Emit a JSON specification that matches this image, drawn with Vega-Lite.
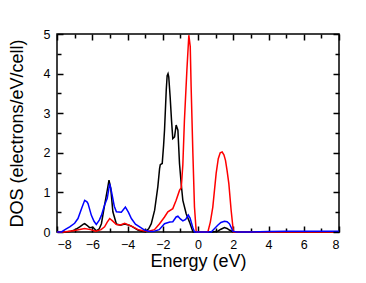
{
  "$schema": "https://vega.github.io/schema/vega-lite/v6.json",
  "width": 282,
  "height": 198,
  "autosize": {"type": "none"},
  "padding": {"left": 57, "top": 34, "right": 27, "bottom": 51},
  "config": {
    "view": {"stroke": "black", "strokeWidth": 1.5},
    "axis": {
      "domain": false,
      "grid": false,
      "labelFont": "Liberation Sans",
      "labelFontSize": 12.5,
      "labelColor": "black",
      "labelOverlap": false,
      "titleFont": "Liberation Sans",
      "titleFontSize": 18,
      "titleFontWeight": "normal",
      "titleColor": "black"
    }
  },
  "data": {
    "values": [
      {"E": -8, "dos": 0, "s": "black"},
      {"E": -7.5, "dos": 0, "s": "black"},
      {"E": -7.2, "dos": 0.02, "s": "black"},
      {"E": -7.0, "dos": 0.05, "s": "black"},
      {"E": -6.71, "dos": 0.13, "s": "black"},
      {"E": -6.5, "dos": 0.2, "s": "black"},
      {"E": -6.43, "dos": 0.21, "s": "black"},
      {"E": -6.3, "dos": 0.17, "s": "black"},
      {"E": -6.15, "dos": 0.11, "s": "black"},
      {"E": -5.96, "dos": 0.12, "s": "black"},
      {"E": -5.77, "dos": 0.03, "s": "black"},
      {"E": -5.6, "dos": 0.08, "s": "black"},
      {"E": -5.48, "dos": 0.21, "s": "black"},
      {"E": -5.3, "dos": 0.68, "s": "black"},
      {"E": -5.15, "dos": 1.05, "s": "black"},
      {"E": -5.05, "dos": 1.31, "s": "black"},
      {"E": -4.95, "dos": 1.1, "s": "black"},
      {"E": -4.83, "dos": 0.51, "s": "black"},
      {"E": -4.63, "dos": 0.2, "s": "black"},
      {"E": -4.4, "dos": 0.17, "s": "black"},
      {"E": -4.16, "dos": 0.2, "s": "black"},
      {"E": -3.9, "dos": 0.17, "s": "black"},
      {"E": -3.78, "dos": 0.15, "s": "black"},
      {"E": -3.41, "dos": 0.05, "s": "black"},
      {"E": -3.2, "dos": 0.02, "s": "black"},
      {"E": -3.0, "dos": 0.01, "s": "black"},
      {"E": -2.8, "dos": 0.08, "s": "black"},
      {"E": -2.65, "dos": 0.21, "s": "black"},
      {"E": -2.46, "dos": 0.55, "s": "black"},
      {"E": -2.28, "dos": 1.14, "s": "black"},
      {"E": -2.18, "dos": 1.6, "s": "black"},
      {"E": -2.14, "dos": 1.7, "s": "black"},
      {"E": -2.03, "dos": 1.73, "s": "black"},
      {"E": -1.95, "dos": 2.2, "s": "black"},
      {"E": -1.9, "dos": 2.57, "s": "black"},
      {"E": -1.8, "dos": 3.6, "s": "black"},
      {"E": -1.75, "dos": 3.95, "s": "black"},
      {"E": -1.7, "dos": 4.0, "s": "black"},
      {"E": -1.66, "dos": 3.92, "s": "black"},
      {"E": -1.58, "dos": 3.41, "s": "black"},
      {"E": -1.5, "dos": 2.8, "s": "black"},
      {"E": -1.43, "dos": 2.36, "s": "black"},
      {"E": -1.33, "dos": 2.4, "s": "black"},
      {"E": -1.24, "dos": 2.7, "s": "black"},
      {"E": -1.14, "dos": 2.57, "s": "black"},
      {"E": -1.05, "dos": 1.73, "s": "black"},
      {"E": -0.95, "dos": 1.2, "s": "black"},
      {"E": -0.86, "dos": 0.8, "s": "black"},
      {"E": -0.67, "dos": 0.46, "s": "black"},
      {"E": -0.48, "dos": 0.25, "s": "black"},
      {"E": -0.35, "dos": 0.08, "s": "black"},
      {"E": -0.28, "dos": 0, "s": "black"},
      {"E": 0.8, "dos": 0, "s": "black"},
      {"E": 1.12, "dos": 0.02, "s": "black"},
      {"E": 1.3, "dos": 0.07, "s": "black"},
      {"E": 1.5, "dos": 0.11, "s": "black"},
      {"E": 1.65, "dos": 0.09, "s": "black"},
      {"E": 1.78, "dos": 0.05, "s": "black"},
      {"E": 2.0, "dos": 0, "s": "black"},
      {"E": 8, "dos": 0, "s": "black"},

      {"E": -8, "dos": 0, "s": "red"},
      {"E": -7.6, "dos": 0, "s": "red"},
      {"E": -7.0, "dos": 0.04, "s": "red"},
      {"E": -6.43, "dos": 0.09, "s": "red"},
      {"E": -6.1, "dos": 0.06, "s": "red"},
      {"E": -5.8, "dos": 0.02, "s": "red"},
      {"E": -5.5, "dos": 0.06, "s": "red"},
      {"E": -5.3, "dos": 0.13, "s": "red"},
      {"E": -5.15, "dos": 0.25, "s": "red"},
      {"E": -5.01, "dos": 0.34, "s": "red"},
      {"E": -4.85, "dos": 0.28, "s": "red"},
      {"E": -4.63, "dos": 0.19, "s": "red"},
      {"E": -4.4, "dos": 0.18, "s": "red"},
      {"E": -4.16, "dos": 0.22, "s": "red"},
      {"E": -3.95, "dos": 0.18, "s": "red"},
      {"E": -3.69, "dos": 0.13, "s": "red"},
      {"E": -3.4, "dos": 0.06, "s": "red"},
      {"E": -3.1, "dos": 0.03, "s": "red"},
      {"E": -2.8, "dos": 0.02, "s": "red"},
      {"E": -2.47, "dos": 0.06, "s": "red"},
      {"E": -2.18, "dos": 0.21, "s": "red"},
      {"E": -1.9, "dos": 0.38, "s": "red"},
      {"E": -1.71, "dos": 0.51, "s": "red"},
      {"E": -1.43, "dos": 0.59, "s": "red"},
      {"E": -1.24, "dos": 0.8, "s": "red"},
      {"E": -1.05, "dos": 1.05, "s": "red"},
      {"E": -0.95, "dos": 1.12, "s": "red"},
      {"E": -0.86, "dos": 1.7, "s": "red"},
      {"E": -0.77, "dos": 2.82, "s": "red"},
      {"E": -0.63, "dos": 4.09, "s": "red"},
      {"E": -0.52, "dos": 4.97, "s": "red"},
      {"E": -0.44, "dos": 4.68, "s": "red"},
      {"E": -0.39, "dos": 3.67, "s": "red"},
      {"E": -0.29, "dos": 1.98, "s": "red"},
      {"E": -0.2, "dos": 0.63, "s": "red"},
      {"E": -0.1, "dos": 0, "s": "red"},
      {"E": 0.56, "dos": 0, "s": "red"},
      {"E": 0.7, "dos": 0.25, "s": "red"},
      {"E": 0.84, "dos": 0.63, "s": "red"},
      {"E": 1.03, "dos": 1.48, "s": "red"},
      {"E": 1.15, "dos": 1.85, "s": "red"},
      {"E": 1.26, "dos": 2.0, "s": "red"},
      {"E": 1.37, "dos": 2.02, "s": "red"},
      {"E": 1.47, "dos": 1.95, "s": "red"},
      {"E": 1.56, "dos": 1.81, "s": "red"},
      {"E": 1.65, "dos": 1.55, "s": "red"},
      {"E": 1.75, "dos": 1.22, "s": "red"},
      {"E": 1.88, "dos": 0.55, "s": "red"},
      {"E": 2.01, "dos": 0, "s": "red"},
      {"E": 8, "dos": 0, "s": "red"},

      {"E": -8, "dos": 0, "s": "blue"},
      {"E": -7.75, "dos": 0, "s": "blue"},
      {"E": -7.5, "dos": 0.07, "s": "blue"},
      {"E": -7.28, "dos": 0.13, "s": "blue"},
      {"E": -7.0, "dos": 0.22, "s": "blue"},
      {"E": -6.81, "dos": 0.34, "s": "blue"},
      {"E": -6.6, "dos": 0.6, "s": "blue"},
      {"E": -6.43, "dos": 0.8, "s": "blue"},
      {"E": -6.3, "dos": 0.76, "s": "blue"},
      {"E": -6.24, "dos": 0.72, "s": "blue"},
      {"E": -6.05, "dos": 0.42, "s": "blue"},
      {"E": -5.9, "dos": 0.27, "s": "blue"},
      {"E": -5.77, "dos": 0.19, "s": "blue"},
      {"E": -5.6, "dos": 0.3, "s": "blue"},
      {"E": -5.48, "dos": 0.42, "s": "blue"},
      {"E": -5.3, "dos": 0.68, "s": "blue"},
      {"E": -5.15, "dos": 0.85, "s": "blue"},
      {"E": -5.01, "dos": 1.22, "s": "blue"},
      {"E": -4.9, "dos": 1.0, "s": "blue"},
      {"E": -4.75, "dos": 0.65, "s": "blue"},
      {"E": -4.63, "dos": 0.51, "s": "blue"},
      {"E": -4.35, "dos": 0.5, "s": "blue"},
      {"E": -4.12, "dos": 0.63, "s": "blue"},
      {"E": -3.95, "dos": 0.5, "s": "blue"},
      {"E": -3.78, "dos": 0.34, "s": "blue"},
      {"E": -3.55, "dos": 0.2, "s": "blue"},
      {"E": -3.31, "dos": 0.13, "s": "blue"},
      {"E": -3.03, "dos": 0.05, "s": "blue"},
      {"E": -2.8, "dos": 0.02, "s": "blue"},
      {"E": -2.56, "dos": 0.01, "s": "blue"},
      {"E": -2.2, "dos": 0.06, "s": "blue"},
      {"E": -1.9, "dos": 0.21, "s": "blue"},
      {"E": -1.6, "dos": 0.25, "s": "blue"},
      {"E": -1.43, "dos": 0.26, "s": "blue"},
      {"E": -1.24, "dos": 0.38, "s": "blue"},
      {"E": -1.14, "dos": 0.4, "s": "blue"},
      {"E": -1.0, "dos": 0.33, "s": "blue"},
      {"E": -0.86, "dos": 0.28, "s": "blue"},
      {"E": -0.7, "dos": 0.32, "s": "blue"},
      {"E": -0.55, "dos": 0.43, "s": "blue"},
      {"E": -0.45, "dos": 0.35, "s": "blue"},
      {"E": -0.3, "dos": 0.12, "s": "blue"},
      {"E": -0.2, "dos": 0, "s": "blue"},
      {"E": 0.75, "dos": 0, "s": "blue"},
      {"E": 0.9, "dos": 0.07, "s": "blue"},
      {"E": 1.12, "dos": 0.17, "s": "blue"},
      {"E": 1.3, "dos": 0.24, "s": "blue"},
      {"E": 1.5, "dos": 0.27, "s": "blue"},
      {"E": 1.65, "dos": 0.26, "s": "blue"},
      {"E": 1.78, "dos": 0.21, "s": "blue"},
      {"E": 1.9, "dos": 0.1, "s": "blue"},
      {"E": 1.97, "dos": 0.02, "s": "blue"},
      {"E": 2.2, "dos": 0, "s": "blue"},
      {"E": 3.0, "dos": 0, "s": "blue"},
      {"E": 4.0, "dos": 0.01, "s": "blue"},
      {"E": 5.0, "dos": 0.02, "s": "blue"},
      {"E": 6.0, "dos": 0.02, "s": "blue"},
      {"E": 7.0, "dos": 0.02, "s": "blue"},
      {"E": 8.0, "dos": 0.02, "s": "blue"}
    ]
  },
  "resolve": {"axis": {"x": "independent", "y": "independent"}},
  "layer": [
    {
      "mark": {"type": "line", "strokeWidth": 1.5},
      "encoding": {
        "x": {
          "field": "E", "type": "quantitative",
          "scale": {"domain": [-8, 8], "nice": false, "zero": false},
          "axis": {
            "orient": "bottom",
            "title": "Energy (eV)",
            "titlePadding": 2,
            "values": [-8, -6, -4, -2, 0, 2, 4, 6, 8],
            "format": "~g",
            "tickSize": -6,
            "tickWidth": 1.5,
            "tickColor": "#000000",
            "labelPadding": 12
          }
        },
        "y": {
          "field": "dos", "type": "quantitative",
          "scale": {"domain": [0, 5], "nice": false},
          "axis": {
            "orient": "left",
            "title": "DOS (electrons/eV/cell)",
            "titlePadding": 17,
            "values": [0, 1, 2, 3, 4, 5],
            "format": "~g",
            "tickSize": -6,
            "tickWidth": 1.5,
            "tickColor": "#000000",
            "labelPadding": 13
          }
        },
        "color": {
          "field": "s", "type": "nominal",
          "scale": {"domain": ["black", "red", "blue"], "range": ["#000000", "#ff0000", "#0000ff"]},
          "legend": null
        }
      }
    },
    {
      "mark": {"type": "line", "opacity": 0},
      "encoding": {
        "x": {
          "field": "E", "type": "quantitative",
          "axis": {"orient": "bottom", "title": null, "labels": false, "values": [-7, -5, -3, -1, 1, 3, 5, 7], "tickSize": -4, "tickWidth": 1.5, "tickColor": "#000000"}
        },
        "y": {
          "field": "dos", "type": "quantitative",
          "axis": {"orient": "left", "title": null, "labels": false, "values": [0.5, 1.5, 2.5, 3.5, 4.5], "tickSize": -4, "tickWidth": 1.5, "tickColor": "#000000"}
        }
      }
    },
    {
      "mark": {"type": "line", "opacity": 0},
      "encoding": {
        "x": {
          "field": "E", "type": "quantitative",
          "axis": {"orient": "top", "title": null, "labels": false, "values": [-8, -6, -4, -2, 0, 2, 4, 6, 8], "tickSize": -6, "tickWidth": 1.5, "tickColor": "#000000", "zindex": 1}
        },
        "y": {
          "field": "dos", "type": "quantitative",
          "axis": {"orient": "right", "title": null, "labels": false, "values": [0, 1, 2, 3, 4, 5], "tickSize": -6, "tickWidth": 1.5, "tickColor": "#000000", "zindex": 1}
        }
      }
    },
    {
      "mark": {"type": "line", "opacity": 0},
      "encoding": {
        "x": {
          "field": "E", "type": "quantitative",
          "axis": {"orient": "top", "title": null, "labels": false, "values": [-7, -5, -3, -1, 1, 3, 5, 7], "tickSize": -4, "tickWidth": 1.5, "tickColor": "#000000", "zindex": 1}
        },
        "y": {
          "field": "dos", "type": "quantitative",
          "axis": {"orient": "right", "title": null, "labels": false, "values": [0.5, 1.5, 2.5, 3.5, 4.5], "tickSize": -4, "tickWidth": 1.5, "tickColor": "#000000", "zindex": 1}
        }
      }
    }
  ]
}
